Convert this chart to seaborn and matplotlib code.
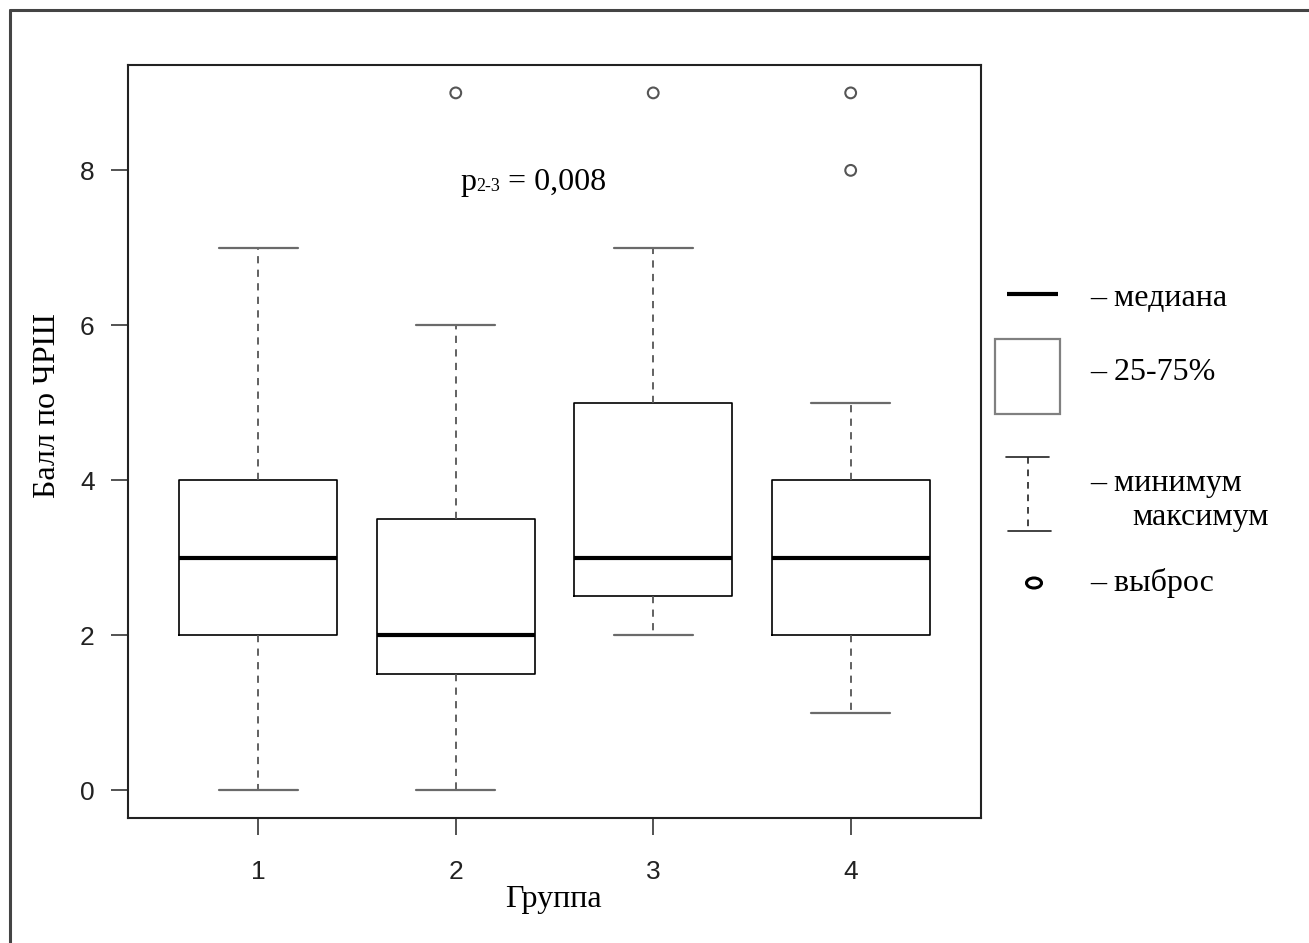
import matplotlib
matplotlib.use("Agg")
import matplotlib.pyplot as plt
import seaborn as sns
from matplotlib.lines import Line2D
from matplotlib.patches import Rectangle, Ellipse

# Summary statistics of the score for each group
groups = [1, 2, 3, 4]
group_labels = ["1", "2", "3", "4"]
medians = [3, 2, 3, 3]
q1 = [2, 1.5, 2.5, 2]
q3 = [4, 3.5, 5, 4]
whisker_lo = [0, 0, 2, 1]
whisker_hi = [7, 6, 7, 5]
outlier_group = [2, 3, 4, 4]
outlier_value = [9, 9, 9, 8]
y_ticks = [0, 2, 4, 6, 8]

sns.set_style("white")
plt.rcParams["font.family"] = ["Liberation Sans", "DejaVu Sans"]
plt.rcParams["text.color"] = "black"
SERIF = ["Liberation Serif", "DejaVu Serif"]

W, H = 1309, 943
fig = plt.figure(figsize=(W / 100, H / 100), dpi=100)


def fx(px):
    return px / W


def fy(py):
    return 1 - py / H


ax = fig.add_axes([fx(128), fy(818), fx(981) - fx(128), fy(65) - fy(818)])

stats = [
    dict(med=m, q1=a, q3=b, whislo=lo, whishi=hi, fliers=[], label=lab)
    for m, a, b, lo, hi, lab in zip(medians, q1, q3, whisker_lo, whisker_hi, group_labels)
]
ax.bxp(
    stats, positions=groups, widths=0.8, capwidths=0.4, showfliers=False,
    boxprops=dict(color="black", linewidth=1.2),
    medianprops=dict(color="black", linewidth=3.0, solid_capstyle="butt"),
    whiskerprops=dict(color="#555555", linewidth=1.3, linestyle=(0, (4, 3.5))),
    capprops=dict(color="#6a6a6a", linewidth=1.6),
)

sns.scatterplot(
    x=outlier_group, y=outlier_value, ax=ax, marker="o", s=60,
    facecolors="none", edgecolors="#555555", linewidth=1.5, zorder=3,
)

ax.set_xlim(0.34, 4.66)
ax.set_ylim(-0.36, 9.36)
ax.set_xticks(groups, group_labels)
ax.set_yticks(y_ticks)
ax.set_xlabel("")
ax.set_ylabel("")
ax.grid(False)
ax.tick_params(bottom=True, left=True, direction="out", length=12, width=1.3,
               color="#444444", labelsize=19, labelcolor="#222222")
ax.tick_params(axis="y", pad=12)
ax.tick_params(axis="x", pad=18)
for s in ax.spines.values():
    s.set_visible(True)
    s.set_color("#222222")
    s.set_linewidth(1.5)

# Axis titles
fig.text(fx(553), fy(907), "Группа", family=SERIF, size=23, color="black",
         ha="center", va="baseline")
fig.text(fx(55), fy(406), "Балл по ЧРШ", family=SERIF, size=23, color="black",
         rotation=90, rotation_mode="anchor", ha="center", va="baseline")

# Significance annotation p(2-3)
t1 = fig.text(fx(460), fy(190), "p", family=SERIF, size=23, color="black", va="baseline")
t2 = ax.annotate("2-3", xy=(1.0, fy(191)), xycoords=(t1, "figure fraction"),
                 family=SERIF, size=13, color="black", va="baseline", ha="left")
ax.annotate(" = 0,008", xy=(1.0, fy(190)), xycoords=(t2, "figure fraction"),
            family=SERIF, size=23, color="black", va="baseline", ha="left")

# Key explaining the box elements
fig.add_artist(Line2D([fx(1007), fx(1058)], [fy(294), fy(294)], color="black",
                      lw=3, solid_capstyle="butt"))
fig.add_artist(Rectangle((fx(995), fy(414)), fx(1060) - fx(995), fy(339) - fy(414),
                         fill=False, edgecolor="#808080", lw=1.6,
                         transform=fig.transFigure))
fig.add_artist(Line2D([fx(1006), fx(1049)], [fy(457), fy(457)], color="#222222", lw=1.2))
fig.add_artist(Line2D([fx(1008), fx(1051)], [fy(531), fy(531)], color="#222222", lw=1.2))
fig.add_artist(Line2D([fx(1028), fx(1028)], [fy(457), fy(531)], color="#222222", lw=1.2,
                      linestyle=(0, (4, 3.5))))
fig.add_artist(Ellipse((fx(1034), fy(583)), fx(15), 10 / H, fill=False,
                       edgecolor="black", lw=2.2, transform=fig.transFigure))

legend_rows = [
    ("– медиана", 1090, 298),
    ("– 25-75%", 1090, 373),
    ("– минимум", 1090, 483),
    ("максимум", 1132, 518),
    ("– выброс", 1090, 583),
]
for label, x, y in legend_rows:
    fig.text(fx(x), fy(y), label, family=SERIF, size=23, color="black",
             ha="left", va="center")

# Outer frame
fig.add_artist(Line2D([fx(10), fx(10)], [0, fy(10)], color="#444444", lw=2.2))
fig.add_artist(Line2D([fx(10), 1], [fy(10), fy(10)], color="#444444", lw=2.2))

fig.savefig("out.png", dpi=100)
